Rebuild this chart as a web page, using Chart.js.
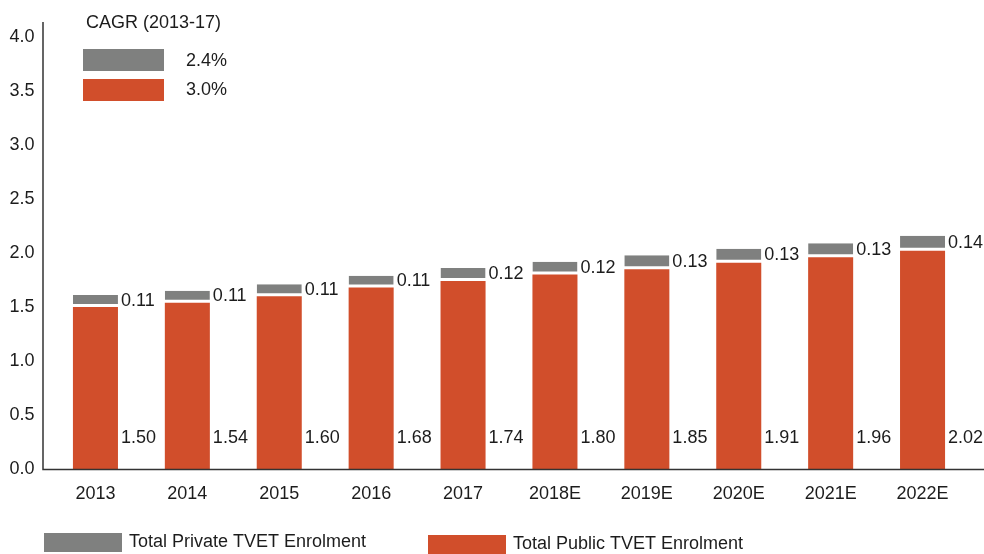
<!DOCTYPE html>
<html>
<head>
<meta charset="utf-8">
<script src="https://cdn.jsdelivr.net/npm/chart.js@4/dist/chart.umd.min.js"></script>
<style>
  body { margin: 0; background: #fff; }
  canvas { display: block; }
</style>
</head>
<body>
<canvas id="grafico" width="984" height="554"></canvas>
<script>
// dados
const anos = ['2013', '2014', '2015', '2016', '2017', '2018E', '2019E', '2020E', '2021E', '2022E'];
const publico = [1.50, 1.54, 1.60, 1.68, 1.74, 1.80, 1.85, 1.91, 1.96, 2.02];
const privado = [0.11, 0.11, 0.11, 0.11, 0.12, 0.12, 0.13, 0.13, 0.13, 0.14];
const cagrTitulo = 'CAGR (2013-17)';
const cagrValores = ['2.4%', '3.0%']; // privado, publico

const corPrivado = '#7f807f';
const corPublico = '#d14e2b';
const corTexto = '#1c1c1c';
const fonte = '"Liberation Sans", Arial, Helvetica, sans-serif';

// rotulos dos valores + eixos + legendas
const pluginExtras = {
  id: 'extras',
  afterDatasetsDraw(chart) {
    const ctx = chart.ctx;
    const area = chart.chartArea;
    ctx.save();
    ctx.font = '18px ' + fonte;
    ctx.fillStyle = corTexto;
    ctx.textAlign = 'left';
    ctx.textBaseline = 'middle';

    const barrasPub = chart.getDatasetMeta(0).data;
    const barrasPriv = chart.getDatasetMeta(1).data;
    barrasPub.forEach((b, i) => {
      const direita = b.x + b.width / 2;
      ctx.fillText(publico[i].toFixed(2), direita + 3, b.base - 31);
    });
    barrasPriv.forEach((b, i) => {
      const direita = b.x + b.width / 2;
      const meio = (b.y + b.base - 3) / 2;
      ctx.fillText(privado[i].toFixed(2), direita + 3, meio + 1);
    });

    // linhas dos eixos
    ctx.strokeStyle = '#333';
    ctx.lineWidth = 1.5;
    ctx.beginPath();
    ctx.moveTo(43, area.top - 15);
    ctx.lineTo(43, area.bottom + 0.5);
    ctx.lineTo(984, area.bottom + 0.5);
    ctx.stroke();

    // caixa CAGR
    ctx.fillText(cagrTitulo, 86, 23);
    const cores = [corPrivado, corPublico];
    cagrValores.forEach((v, i) => {
      ctx.fillStyle = cores[i];
      ctx.fillRect(83, 49 + i * 30, 81, 22);
      ctx.fillStyle = corTexto;
      ctx.fillText(v, 186, 61 + i * 29);
    });

    // legenda de baixo
    const itens = [
      { txt: chart.data.datasets[1].label, cor: corPrivado, x: 44, y: 533 },
      { txt: chart.data.datasets[0].label, cor: corPublico, x: 428, y: 535 }
    ];
    itens.forEach(it => {
      ctx.fillStyle = it.cor;
      ctx.fillRect(it.x, it.y, 78, 19);
      ctx.fillStyle = corTexto;
      ctx.fillText(it.txt, it.x + 85, it.y + 9);
    });
    ctx.restore();
  }
};

const ctx = document.getElementById('grafico');
const grafico = new Chart(ctx, {
  type: 'bar',
  data: {
    labels: anos,
    datasets: [{
      label: 'Total Public TVET Enrolment',
      data: publico,
      backgroundColor: corPublico,
      borderWidth: 0
    }, {
      label: 'Total Private TVET Enrolment',
      data: privado,
      backgroundColor: corPrivado,
      borderColor: '#ffffff',
      borderWidth: { top: 0, left: 0, right: 0, bottom: 3 },
      borderSkipped: false
    }]
  },
  options: {
    responsive: false,
    animation: false,
    devicePixelRatio: 1,
    categoryPercentage: 1,
    barPercentage: 0.49,
    layout: { padding: { top: 37, right: 15.5, left: 0, bottom: 0 } },
    plugins: {
      legend: { display: false },
      tooltip: { enabled: false }
    },
    scales: {
      x: {
        stacked: true,
        grid: { display: false, drawTicks: false },
        border: { display: false },
        ticks: { color: corTexto, font: { family: fonte, size: 18 }, padding: 14, maxRotation: 0 },
        afterFit(scale) { scale.height = 85; }
      },
      y: {
        stacked: true,
        min: 0,
        max: 4,
        grid: { display: false, drawTicks: false },
        border: { display: false },
        ticks: {
          stepSize: 0.5,
          color: corTexto,
          font: { family: fonte, size: 18 },
          padding: 15,
          callback: v => v.toFixed(1)
        },
        afterFit(scale) { scale.width = 49.5; }
      }
    }
  },
  plugins: [pluginExtras]
});
</script>
</body>
</html>
